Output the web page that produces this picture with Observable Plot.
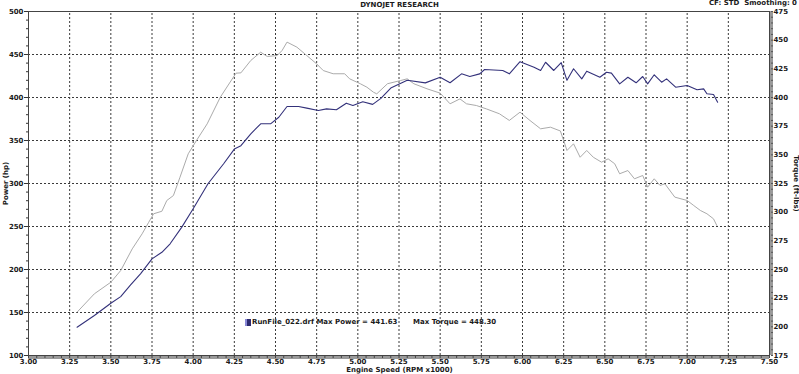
<!DOCTYPE html>
<html><head><meta charset="utf-8">
<script src="https://cdn.jsdelivr.net/npm/d3@7"></script>
<script src="https://cdn.jsdelivr.net/npm/@observablehq/plot@0.6"></script>
<style>
body{margin:0;background:#fff;}
#wrap{position:relative;width:799px;height:374px;font-family:"DejaVu Sans",Verdana,sans-serif;font-weight:bold;color:#1a1a1a;}
#wrap svg{position:absolute;left:0;top:0;}
.t{position:absolute;font-size:7px;white-space:pre;line-height:1;}
</style></head><body><div id="wrap"></div>
<script>
// Power curve (hp) vs engine speed (RPM x1000)
const powerRpm = [3.295,3.40,3.50,3.56,3.62,3.68,3.75,3.81,3.86,3.93,4.00,4.09,4.185,4.25,4.29,4.35,4.41,4.47,4.52,4.57,4.64,4.69,4.76,4.81,4.87,4.93,4.97,5.03,5.09,5.14,5.20,5.30,5.41,5.50,5.56,5.63,5.68,5.74,5.77,5.88,5.92,5.985,6.07,6.11,6.14,6.19,6.235,6.27,6.31,6.36,6.39,6.47,6.51,6.54,6.59,6.64,6.69,6.73,6.76,6.80,6.845,6.875,6.93,7.00,7.06,7.10,7.12,7.16,7.185];
const powerHp  = [132.9,146.5,160.8,168.5,182.0,195.0,212.4,220.0,229.9,249.0,270.6,299.7,323.0,340.0,344.0,357.8,369.4,369.4,377.0,389.5,389.5,387.6,384.9,386.8,385.7,393.4,390.7,395.0,392.0,399.0,411.0,420.0,417.0,423.6,417.1,427.5,424.4,427.5,432.6,431.4,427.5,441.6,435.2,431.4,441.0,431.4,440.5,420.0,433.4,421.7,430.6,423.6,429.4,428.3,415.9,423.6,417.1,424.4,415.9,426.4,417.8,421.7,412.0,414.0,409.0,410.0,404.3,403.5,394.5];
// Torque curve (ft-lbs) vs engine speed
const torqueRpm = [3.295,3.40,3.50,3.56,3.63,3.69,3.73,3.76,3.81,3.84,3.88,3.92,3.97,4.02,4.085,4.165,4.26,4.29,4.35,4.41,4.45,4.51,4.54,4.57,4.63,4.69,4.75,4.79,4.85,4.92,4.95,5.015,5.055,5.095,5.115,5.18,5.26,5.30,5.34,5.42,5.50,5.56,5.62,5.66,5.72,5.78,5.86,5.92,5.985,6.045,6.11,6.17,6.23,6.25,6.27,6.31,6.35,6.39,6.43,6.48,6.52,6.56,6.59,6.64,6.68,6.73,6.76,6.80,6.835,6.865,6.925,7.00,7.04,7.08,7.12,7.16,7.18];
const torqueFt  = [212.8,228.8,238.9,249.1,268.0,281.1,291.2,298.6,300.8,310.2,314.5,330.5,350.9,362.5,377.0,400.3,421.2,421.5,432.3,439.5,435.8,436.6,441.0,448.3,443.9,436.6,429.3,423.5,420.7,420.7,416.3,412.0,409.0,404.6,403.2,412.0,414.8,416.3,412.0,407.6,403.8,394.5,398.8,394.5,393.0,390.1,385.8,380.0,387.2,380.0,372.7,374.1,370.8,362.5,353.8,359.6,347.9,353.8,347.9,343.6,346.5,342.2,333.5,336.3,329.1,332.0,321.8,329.1,323.3,324.7,313.1,310.2,305.8,301.5,298.6,294.2,288.4];
// Axis ticks and labels
const xTicks = [3,3.25,3.5,3.75,4,4.25,4.5,4.75,5,5.25,5.5,5.75,6,6.25,6.5,6.75,7,7.25,7.5];
const xTickLabels = ["3.00","3.25","3.50","3.75","4.00","4.25","4.50","4.75","5.00","5.25","5.50","5.75","6.00","6.25","6.50","6.75","7.00","7.25","7.50"];
const hpTicks = [100,150,200,250,300,350,400,450,500];
const hpTickLabels = ["100","150","200","250","300","350","400","450","500"];
const tqTicks = [175,200,225,250,275,300,325,350,375,400,425,450,475];
const tqTickLabels = ["175","200","225","250","275","300","325","350","375","400","425","450","475"];
const titleText = "DYNOJET RESEARCH";
const cornerText = "CF: STD  Smoothing: 0";
const xLabel = "Engine Speed (RPM x1000)";
const yLabel = "Power (hp)";
const y2Label = "Torque (ft-lbs)";
const legendText = "RunFile_022.drf Max Power = 441.63";
const legendText2 = "Max Torque = 448.30";

const tqToHp = t => 100 + (t - 175) / 0.75;
const hpToTq = h => 175 + (h - 100) * 0.75;
const power = powerRpm.map((r, i) => ({rpm: r, v: powerHp[i]}));
const torque = torqueRpm.map((r, i) => ({rpm: r, v: tqToHp(torqueFt[i])}));
const minorX = d3.range(0, 91).map(i => 3 + i * 0.05);
const minorHp = d3.range(0, 41).map(i => 100 + i * 10);
const minorTq = d3.range(0, 61).map(i => tqToHp(175 + i * 5));

const W = 799, H = 374, mL = 28, mR = 30, mT = 11, mB = 19;
const innerW = W - mL - mR, innerH = H - mT - mB;

const chart = Plot.plot({
  width: W, height: H,
  marginLeft: mL, marginRight: mR, marginTop: mT, marginBottom: mB,
  style: {fontFamily: '"DejaVu Sans", Verdana, sans-serif', fontSize: "7px", fontWeight: "bold", color: "#1a1a1a", background: "transparent", overflow: "visible"},
  x: {domain: [3, 7.5]},
  y: {domain: [100, 500]},
  marks: [
    // dashed grid drawn as inward axis ticks
    Plot.axisX(xTicks.slice(1, -1), {anchor: "bottom", tickSize: -innerH, text: null, label: null,
      stroke: "#3a3a3a", strokeDasharray: "2,2", strokeOpacity: 1}),
    Plot.axisY(hpTicks.slice(1, -1), {anchor: "left", tickSize: -innerW, text: null, label: null,
      stroke: "#3a3a3a", strokeDasharray: "2,2", strokeOpacity: 1}),
    Plot.line(torque, {x: "rpm", y: "v", stroke: "#ababab", strokeWidth: 1}),
    Plot.line(power, {x: "rpm", y: "v", stroke: "#33317a", strokeWidth: 1.1}),
    Plot.ruleX([7.5], {stroke: "#9a9a9a", strokeWidth: 3, dx: 2}),
    Plot.ruleY([100], {stroke: "#9a9a9a", strokeWidth: 3, dy: 2}),
    Plot.frame({stroke: "#444", strokeWidth: 1}),
    // left axis
    Plot.axisY(minorHp, {anchor: "left", tickSize: 2, text: null, stroke: "#333", label: null}),
    Plot.axisY(hpTicks, {anchor: "left", tickSize: 4, tickPadding: 1, stroke: "#333",
      tickFormat: d => hpTickLabels[hpTicks.indexOf(d)], label: null}),
    // right axis (torque)
    Plot.axisY(minorTq, {anchor: "right", tickSize: 2, text: null, stroke: "#555", dx: 1, label: null}),
    Plot.axisY(tqTicks.map(tqToHp), {anchor: "right", tickSize: 0, tickPadding: 4,
      tickFormat: d => tqTickLabels[tqTicks.indexOf(Math.round(hpToTq(d)))], label: null}),
    // bottom axis
    Plot.axisX(minorX, {anchor: "bottom", tickSize: 3, text: null, stroke: "#444", label: null}),
    Plot.axisX(xTicks, {anchor: "bottom", tickSize: 0, tickPadding: 4,
      tickFormat: d => xTickLabels[xTicks.indexOf(d)], label: null})
  ]
});

const wrap = document.getElementById("wrap");
wrap.appendChild(chart);

function addText(txt, css) {
  const d = document.createElement("div");
  d.className = "t";
  d.textContent = txt;
  Object.assign(d.style, css);
  wrap.appendChild(d);
  return d;
}
addText(titleText, {left: "0px", width: "799px", textAlign: "center", top: "2px"});
addText(cornerText, {right: "2px", top: "0px"});
addText(xLabel, {left: "0px", width: "799px", textAlign: "center", top: "367px"});
addText(yLabel, {left: "-27px", top: "180px", width: "66px", textAlign: "center", transform: "rotate(-90deg)"});
addText(y2Label, {left: "757px", top: "180px", width: "76px", textAlign: "center", transform: "rotate(90deg)"});
// legend
const sw = document.createElement("div");
Object.assign(sw.style, {position: "absolute", left: "245px", top: "319px", width: "6px", height: "7px",
  background: "linear-gradient(90deg,#8a8ad8 0 2px,#2d2b70 2px)", border: "0"});
wrap.appendChild(sw);
addText(legendText, {left: "252px", top: "319px", fontSize: "7px"});
addText(legendText2, {left: "413px", top: "319px", fontSize: "7px"});
</script>
</body></html>
